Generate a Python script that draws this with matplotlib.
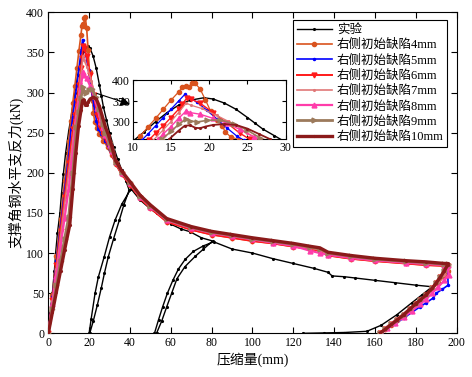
import matplotlib
matplotlib.use("Agg")
import matplotlib.pyplot as plt

plt.rcParams['font.family'] = ['Liberation Serif', 'Noto Sans CJK SC', 'DejaVu Sans']
plt.rcParams['mathtext.fontset'] = 'stix'

# ---------------- data ----------------
exp_label = "实验"
exp_x = [0, 1, 2, 3, 3.6, 4.5, 5.7, 6.5, 7.4, 8.5, 10, 11.5, 13, 14.5, 16, 17.5, 19.3, 20.5,
         22, 23.5, 25, 26, 27, 28.5, 30, 32, 34, 36, 38, 39.6,
         37, 34.8, 32, 29.4, 27.5, 26, 24, 22, 20.3,
         20, 21, 22.9, 24.5, 27.4, 30, 32.7, 36, 40.5,
         45, 50, 53, 60, 65, 69.4, 75, 80.5,
         76, 72, 66.9, 63, 60.4, 58, 55.5, 53,
         52, 54, 56, 58.3, 61, 63.7, 67, 71, 76, 81,
         90, 100, 110, 120, 130, 137, 139, 145, 150, 160, 170, 180, 188,
         183, 178, 170.6, 163, 156, 145, 135, 124.7]
exp_y = [0, 25, 50, 78, 100, 125, 150, 175, 199, 225, 252, 275, 300, 322, 340, 352, 358, 355,
         345, 330, 310, 296, 282, 266, 250, 232, 217, 203, 190, 178.5,
         160, 141, 118, 95.5, 75, 57, 35, 15, 0,
         0, 18, 49.8, 70, 95.5, 120, 141, 161, 180,
         166, 155, 149.5, 136, 130, 126.6, 119, 115,
         105, 96, 83, 68, 49.8, 33, 15, 0,
         0, 17, 33, 49.8, 66, 80, 92, 102, 109, 114,
         105, 100, 93, 87, 81, 76, 71.5, 70.5, 69, 66, 63, 60, 58,
         48, 38, 23, 10, 2.5, 1, 0.5, 0]

labels = ["右侧初始缺陷4mm", "右侧初始缺陷5mm", "右侧初始缺陷6mm", "右侧初始缺陷7mm",
          "右侧初始缺陷8mm", "右侧初始缺陷9mm", "右侧初始缺陷10mm"]

# loading + peak + early softening (x, y)
head_x4 = [0, 2, 4, 6, 8, 10, 11, 12, 13, 14, 15, 16, 16.5, 17, 17.3, 17.7, 18.1, 18.8, 19.5, 20.2,
           21, 21.7, 22.1, 22.8, 23.9, 25, 27, 29, 31]
head_y4 = [0, 48, 96, 143, 190, 240, 265, 287, 308, 330, 352, 372, 383, 386, 383, 393, 394, 380, 353, 325,
           305, 290, 275, 263, 256, 248, 240, 232, 222]
head_x5 = [0, 2, 4, 6, 8, 10, 11.2, 12, 13, 14, 15, 16, 16.8, 17.5, 18.4, 19.7, 21, 22.3, 23.6, 24.5,
           26, 28, 30, 31]
head_y5 = [0, 45, 90, 134, 178, 222, 255, 270, 290, 310, 330, 350, 366, 358, 347, 328, 306, 285, 265, 255,
           248, 240, 229, 223]
head_x6 = [0, 2, 4, 6, 8, 10, 12.1, 13, 14, 15, 16, 16.5, 17.1, 17.6, 18.8, 20.5, 22.3, 24, 25.3, 27,
           29, 31]
head_y6 = [0, 42, 85, 128, 170, 212, 255, 272, 290, 310, 330, 343, 358, 355, 345, 322, 297, 272, 257, 247,
           237, 224]
head_x7 = [0, 2, 4, 6, 8, 10, 11.5, 12.7, 14, 15, 16, 17, 17.6, 19, 21, 23, 25, 26.5, 28, 30, 31]
head_y7 = [0, 40, 80, 120, 160, 200, 230, 255, 280, 300, 322, 345, 340, 332, 315, 296, 272, 257, 246, 233, 226]
head_x8 = [0, 2, 4, 6, 8, 10, 11.5, 13.3, 14, 15, 16, 17, 17.5, 18.8, 20.5, 22.3, 24, 25.8, 26.6, 28,
           30, 31]
head_y8 = [0, 36, 72, 108, 144, 180, 215, 257, 270, 288, 308, 326, 322, 318, 308, 296, 281, 263, 257, 247,
           235, 227]
head_x9 = [0, 2, 4, 6, 8, 10, 12, 13.8, 15, 16, 17, 17.5, 18.4, 19.7, 21.4, 23.2, 24.9, 26.6, 28, 30, 31]
head_y9 = [0, 30, 60, 90, 118, 145, 200, 257, 276, 293, 307, 302, 299, 303, 304, 295, 280, 261, 250, 238, 230]
head_x10 = [0, 2, 4, 6, 8, 10.5, 12, 13.5, 14.8, 16, 16.8, 17.5, 18.2, 18.8, 19.5, 20.5, 22, 23.5, 25,
            26.5, 28, 29.5, 31]
head_y10 = [0, 26, 52, 78, 104, 135, 180, 225, 258, 278, 290, 291, 285, 284, 288, 292, 294, 292, 283,
            270, 257, 247, 234]

# softening branch (shared x positions)
tail_x = [33, 36, 40, 45, 50, 58, 70, 80, 90, 100, 110, 120, 128, 133, 137, 148, 160, 175, 185, 194]
tail_y4 = [211, 198, 185, 168, 156, 139, 129, 123, 119, 115, 112, 108, 105, 103, 97, 93, 90, 87, 85, 84]
tail_y5 = [212, 199, 186, 169, 157, 140, 130, 124, 120, 116, 113, 109, 106, 104, 99, 95, 91, 88, 86, 85]
tail_y6 = [211, 198, 185, 168, 156, 139, 129, 123, 119, 115, 112, 108, 105, 103, 97, 93, 90, 87, 85, 84]
tail_y7 = [213, 200, 187, 170, 158, 141, 131, 125, 121, 117, 113, 109.5, 106, 104, 98, 94, 91, 88, 86.5, 85]
tail_y8 = [213, 200, 187, 170, 158, 141, 131, 125, 121, 117, 113, 109, 103, 100, 98, 94, 91, 88, 86.5, 85]
tail_y9 = [214, 201, 188, 171, 159, 142, 132, 126, 122, 118, 114.5, 111, 107.5, 105.5, 100, 96, 92.5, 89.5, 88, 86]
tail_y10 = [215, 202, 189, 172, 160, 143, 133, 127, 123, 119, 115.5, 112, 108.5, 106.5, 101, 97, 93.5, 90.5, 89, 87]

# final unloading branch
end_x4 = [195.5, 195.8, 194, 191, 188, 185, 182, 180, 177, 174, 171, 168, 165, 162.6]
end_y4 = [84, 78, 71, 63, 55, 47, 40, 36, 29, 22, 16, 10, 5, 0]
end_x5 = [195.5, 195.8, 193, 190, 188.5, 185, 182, 178, 174, 170, 166, 163]
end_y5 = [84, 60, 55, 50, 44, 38, 33, 26, 19, 12, 6, 0]
end_x6 = [195.5, 194.5, 192, 190, 188, 185, 182, 180, 177, 174, 171, 168, 165, 162.4]
end_y6 = [84, 79, 70, 63, 56, 48, 41, 37, 30, 23, 17, 11, 5, 0]
end_x7 = [195.5, 195.8, 194, 191, 188, 185, 182, 179, 176, 172, 168, 165, 162.6]
end_y7 = [85, 80, 73, 64, 56, 48, 41, 35, 29, 21, 13, 7, 0]
end_x8 = [195.5, 196, 194, 191, 188, 185, 182, 178, 174, 170, 166, 163]
end_y8 = [85, 73, 66, 58, 50, 43, 36, 28, 20, 13, 6, 0]
end_x9 = [195.5, 195.5, 194, 192, 190, 188, 185, 182, 180, 177, 174, 171, 168, 165, 162.4]
end_y9 = [86, 85, 78, 70, 63, 56, 48, 41, 37, 30, 23, 17, 11, 5, 0]
end_x10 = [195.5, 195.5, 194, 192, 190, 188, 185, 182, 180, 177, 174, 171, 168, 165, 162.4]
end_y10 = [87, 85, 78, 70, 63, 56, 48, 41, 37, 30, 23, 17, 11, 5, 0]

heads_x = [head_x4, head_x5, head_x6, head_x7, head_x8, head_x9, head_x10]
heads_y = [head_y4, head_y5, head_y6, head_y7, head_y8, head_y9, head_y10]
tails_y = [tail_y4, tail_y5, tail_y6, tail_y7, tail_y8, tail_y9, tail_y10]
ends_x = [end_x4, end_x5, end_x6, end_x7, end_x8, end_x9, end_x10]
ends_y = [end_y4, end_y5, end_y6, end_y7, end_y8, end_y9, end_y10]

colors = ['#D9531E', '#0000FF', '#FF1A1A', '#E07878', '#FF3CAA', '#9C7A5C', '#8B1A1A']
markers = ['o', '.', 'v', '.', '^', '>', '.']
msizes = [3, 3, 3.5, 2.5, 3.5, 3.5, 2.5]
lws = [1.2, 1.2, 1.4, 1.2, 1.6, 2.0, 2.4]
lws_inset = [0.9, 0.9, 1.0, 0.9, 1.0, 1.2, 1.3]

# ---------------- figure ----------------
fig = plt.figure(figsize=(4.72, 3.77), dpi=100)
ax = fig.add_axes([0.1023, 0.1159, 0.8653, 0.8515])
ins = fig.add_axes([0.2811, 0.6305, 0.3242, 0.156])

for a, widths in ((ax, lws), (ins, lws_inset)):
    a.plot(exp_x, exp_y, color='k', lw=1.0, marker='.', ms=2.5, label=exp_label, zorder=2)
    for i in range(7):
        xs = heads_x[i] + tail_x + ends_x[i]
        ys = heads_y[i] + tails_y[i] + ends_y[i]
        a.plot(xs, ys, color=colors[i], lw=widths[i], marker=markers[i], ms=msizes[i],
               label=labels[i], zorder=3 + i)

ax.set_xlim(0, 200)
ax.set_ylim(0, 400)
ax.set_xticks(range(0, 201, 20))
ax.set_yticks(range(0, 401, 50))
ax.tick_params(direction='in', top=True, right=True, length=4, width=0.8, labelsize=8.5, pad=3)
for s in ax.spines.values():
    s.set_linewidth(0.8)
ax.set_xlabel("压缩量(mm)", fontsize=10, labelpad=2)
ax.set_ylabel("支撑角钢水平支反力(kN)", fontsize=10, labelpad=2)

ins.set_xlim(10, 30)
ins.set_ylim(257, 400)
ins.set_xticks([10, 15, 20, 25, 30])
ins.set_yticks([300, 350, 400])
ins.tick_params(direction='in', top=True, right=True, length=3, width=0.8, labelsize=8.5, pad=2)
for s in ins.spines.values():
    s.set_linewidth(0.8)

leg = ax.legend(loc='upper right', bbox_to_anchor=(0.977, 0.975), borderaxespad=0,
                fontsize=9, frameon=True, fancybox=False, edgecolor='k', framealpha=1,
                handlelength=2.8, labelspacing=0.25, borderpad=0.3, handletextpad=0.4)
leg.get_frame().set_linewidth(0.8)

ax.annotate("", xy=(0, 0.58), xycoords=ins.transAxes, xytext=(22.5, 300), textcoords='data',
            arrowprops=dict(arrowstyle='-|>', color='k', lw=0.8, mutation_scale=14), zorder=20)

fig.savefig("out.png", dpi=100)
